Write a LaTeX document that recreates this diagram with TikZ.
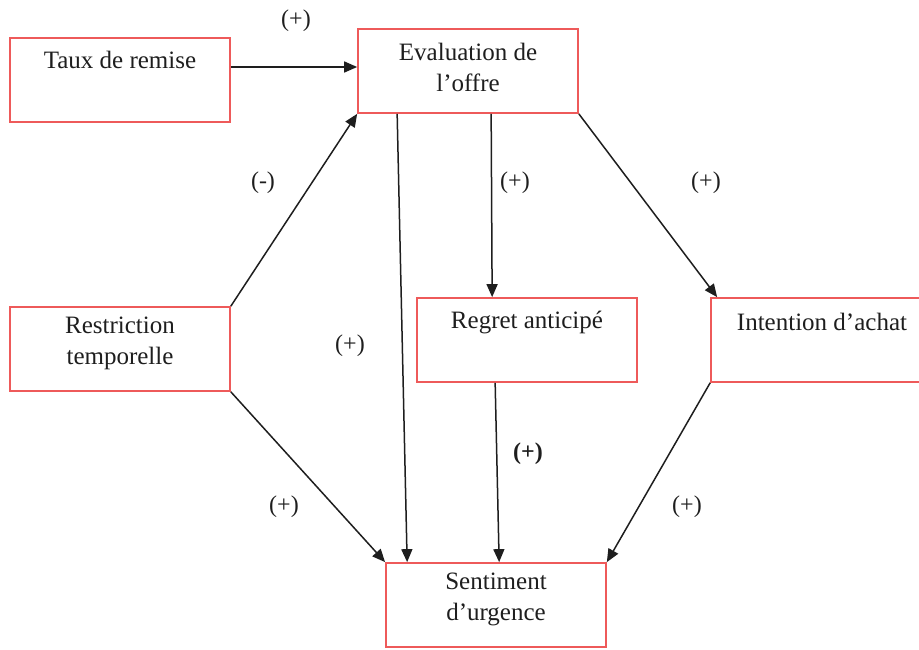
\documentclass[tikz,border=0pt]{standalone}
\usepackage{fontspec}
\setmainfont{Liberation Serif}
\usetikzlibrary{arrows.meta,calc}
\definecolor{boxred}{RGB}{238,90,90}
\definecolor{ink}{RGB}{30,30,30}
\tikzset{
  box/.style={draw=boxred, line width=1.7pt, rectangle, minimum width=#1, minimum height=84pt, inner sep=0pt},
  box/.default=220pt,
  txt/.style={text=ink, font=\fontsize{25}{31}\selectfont, align=center, inner sep=0pt},
  sign/.style={text=ink, font=\fontsize{24}{28}\selectfont, inner sep=0pt},
  conn/.style={draw=ink, line width=1.5pt, -{Triangle[length=13pt,width=11pt]}}
}
\begin{document}
\begin{tikzpicture}[x=1pt,y=-1pt]
\useasboundingbox (0,0) rectangle (919,650);
% boxes
\node[box] (taux) at (120,80) {};
\node[box] (eval) at (468,71) {};
\node[box] (restr) at (120,349) {};
\node[box] (regret) at (527,340) {};
\node[box] (intent) at (821,340) {};
\node[box] (sent) at (496,605) {};
% texts
\node[txt] (ttaux) at (120,60) {Taux de remise};
\node[txt] (teval) at (468,67) {Evaluation de\\l’offre};
\node[txt] (trestr) at (120,343) {Restriction\\temporelle};
\node[txt] (tregret) at (527,323) {Regret anticipé};
\node[txt] (tintent) at (822,322) {Intention d’achat};
\node[txt] (tsent) at (496,599) {Sentiment\\d’urgence};
% connectors
\draw[conn] (taux.east |- 0,67) coordinate (a1) -- (a1 -| eval.west);
\draw[conn] (restr.north east) -- (eval.south west);
\draw[conn] ($(eval.south west)+(40,0)$) -- ($(sent.north west)+(22,0)$);
\draw[conn] ($(eval.south west)+(134,0)$) -- ($(regret.north west)+(76,0)$);
\draw[conn] (eval.south east) -- ($(intent.north west)+(7,0)$);
\draw[conn] (restr.south east) -- (sent.north west);
\draw[conn] ($(regret.south west)+(79,0)$) -- ($(sent.north west)+(114,0)$);
\draw[conn] (intent.south west) -- (sent.north east);
% signs
\node[sign] (s1) at (296,21) {(+)};
\node[sign] (s2) at (263,183) {(-)};
\node[sign] (s3) at (515,183) {(+)};
\node[sign] (s4) at (706,183) {(+)};
\node[sign] (s5) at (350,346) {(+)};
\node[sign] (s6) at (528,454) {\textbf{(+)}};
\node[sign] (s7) at (284,507) {(+)};
\node[sign] (s8) at (687,507) {(+)};
\end{tikzpicture}
\end{document}
